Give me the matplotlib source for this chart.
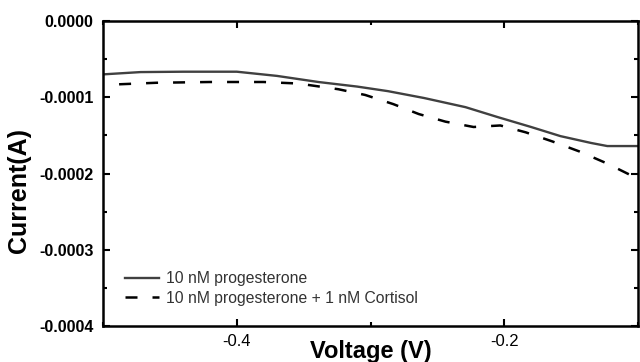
import matplotlib
matplotlib.use("Agg")
from matplotlib import pyplot as plt
from matplotlib.ticker import MultipleLocator, FormatStrFormatter

plt.rcParams['font.family'] = ['Liberation Sans', 'DejaVu Sans']
plt.rcParams['axes.unicode_minus'] = False

# voltage (V) and current (A)
v_prog = [-0.500, -0.472, -0.440, -0.400, -0.370, -0.339, -0.310, -0.287,
          -0.260, -0.229, -0.205, -0.180, -0.158, -0.135, -0.123, -0.100]
i_prog = [-0.70e-4, -0.67e-4, -0.665e-4, -0.665e-4, -0.72e-4, -0.80e-4,
          -0.86e-4, -0.92e-4, -1.01e-4, -1.13e-4, -1.26e-4, -1.39e-4,
          -1.51e-4, -1.60e-4, -1.64e-4, -1.64e-4]

v_cort = [-0.488, -0.460, -0.420, -0.380, -0.354, -0.324, -0.304, -0.283,
          -0.264, -0.244, -0.223, -0.203, -0.184, -0.164, -0.144, -0.123, -0.100]
i_cort = [-0.83e-4, -0.81e-4, -0.80e-4, -0.80e-4, -0.82e-4, -0.895e-4,
          -0.97e-4, -1.09e-4, -1.22e-4, -1.32e-4, -1.39e-4, -1.37e-4,
          -1.46e-4, -1.58e-4, -1.71e-4, -1.87e-4, -2.07e-4]

labels = ['10 nM progesterone', '10 nM progesterone + 1 nM Cortisol']

fig = plt.figure(figsize=(6.4, 3.62), dpi=100)
ax = fig.add_axes([0.161, 0.0994, 0.836, 0.8426])

ax.plot(v_prog, i_prog, color='#404040', lw=1.7, label=labels[0])
ax.plot(v_cort, i_cort, color='black', lw=1.8, dashes=(4.8, 6), label=labels[1])

ax.set_xlim(-0.5, -0.1)
ax.set_ylim(-0.0004, 0.0)
ax.xaxis.set_minor_locator(MultipleLocator(0.1))
ax.set_xticks([-0.4, -0.2])
ax.yaxis.set_major_locator(MultipleLocator(0.0001))
ax.yaxis.set_minor_locator(MultipleLocator(0.00005))
ax.yaxis.set_major_formatter(FormatStrFormatter('%.4f'))
ax.xaxis.set_major_formatter(FormatStrFormatter('%.1f'))

for s in ax.spines.values():
    s.set_linewidth(1.8)
ax.tick_params(which='both', direction='in', top=True, right=True, width=1.5)
ax.tick_params(which='major', length=5)
ax.tick_params(which='minor', length=3)
ax.tick_params(axis='y', labelsize=11.5, pad=7)
ax.tick_params(axis='x', labelsize=12, pad=6)
for lab in ax.get_yticklabels():
    lab.set_fontweight('bold')

ax.set_xlabel('Voltage (V)', fontsize=17, fontweight='bold')
ax.xaxis.set_label_coords(0.5, -0.045)
ax.set_ylabel('Current(A)', fontsize=18, fontweight='bold')
ax.yaxis.set_label_coords(-0.135, 0.443)

leg = ax.legend(loc='lower left', bbox_to_anchor=(0.02, 0.03), frameon=False,
                fontsize=11.3, handlelength=2.2, handletextpad=0.4,
                labelspacing=0.3, borderpad=0.2)
for t in leg.get_texts():
    t.set_color('#333333')

fig.savefig('out.png', dpi=100)
